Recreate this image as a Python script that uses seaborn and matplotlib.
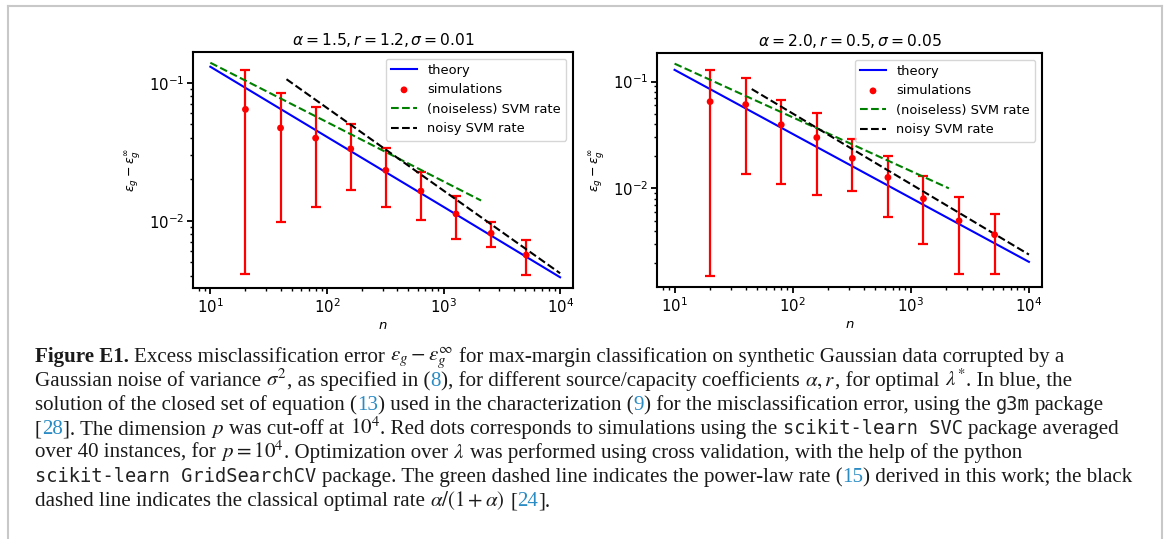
import numpy as np
import pandas as pd
import matplotlib
matplotlib.use("Agg")
import matplotlib.pyplot as plt
import seaborn as sns
from matplotlib.lines import Line2D

# ---------------- data ----------------
titles = [r"$\alpha = 1.5, r = 1.2, \sigma = 0.01$", r"$\alpha = 2.0, r = 0.5, \sigma = 0.05$"]

n_theory = [10, 100, 1000, 10000]
theory_left = [0.1306, 0.0405, 0.0126, 0.00389]
theory_right = [0.1286, 0.0323, 0.00813, 0.00205]

n_green = [10, 2100]
green_left = [0.1396, 0.0140]
green_right = [0.147, 0.0100]

n_black = [45, 10000]
black_left = [0.106, 0.00416]
black_right = [0.085, 0.0024]

n_sim = [20, 40, 80, 160, 320, 640, 1280, 2560, 5120]
sim_left = [0.0641, 0.047, 0.0397, 0.0332, 0.0232, 0.0164, 0.0112, 0.0081, 0.00564]
err_left = [0.060, 0.0372, 0.0271, 0.0166, 0.0106, 0.0062, 0.0038, 0.0017, 0.00163]
sim_right = [0.0648, 0.0608, 0.0394, 0.0299, 0.0191, 0.01265, 0.00801, 0.00497, 0.00368]
err_right = [0.0633, 0.0472, 0.0284, 0.0213, 0.0097, 0.0073, 0.0050, 0.0034, 0.0021]

legend_labels = ["theory", "simulations", "(noiseless) SVM rate", "noisy SVM rate"]

# ---------------- figure ----------------
W, H = 1167, 539
fig = plt.figure(figsize=(W / 100, H / 100), dpi=100)
plt.rcParams['font.family'] = ['DejaVu Sans']

axes_px = [(193, 52, 573, 288), (657, 53, 1042, 287)]
panels = [
    (theory_left, green_left, black_left, sim_left, err_left),
    (theory_right, green_right, black_right, sim_right, err_right),
]

for (x0, y0, x1, y1), title, (th, gr, bl, sm, er) in zip(axes_px, titles, panels):
    ax = fig.add_axes([x0 / W, 1 - y1 / H, (x1 - x0) / W, (y1 - y0) / H])
    ax.set_xscale("log")
    ax.set_yscale("log")
    sns.lineplot(x=n_theory, y=th, ax=ax, color="b", lw=1.5, label=legend_labels[0])
    ax.errorbar(n_sim, sm, yerr=er, fmt="none", ecolor="r", elinewidth=1.6,
                capsize=3.5, capthick=1.6, label="_nolegend_")
    sns.scatterplot(x=n_sim, y=sm, ax=ax, color="r", s=24, edgecolor="none",
                    label=legend_labels[1], zorder=3)
    sns.lineplot(x=n_green, y=gr, ax=ax, color="g", lw=1.5, linestyle="--", label=legend_labels[2])
    sns.lineplot(x=n_black, y=bl, ax=ax, color="k", lw=1.5, linestyle="--", label=legend_labels[3])
    ax.set_xlim(7.1, 12900)
    ax.set_title(title, fontsize=11.2, pad=5)
    ax.set_xlabel(r"$n$", fontsize=9.5, labelpad=2)
    ax.set_ylabel(r"$\varepsilon_g - \varepsilon_g^{\infty}$", fontsize=9, labelpad=4)
    for s in ax.spines.values():
        s.set_linewidth(1.5)
    ax.tick_params(which="major", width=1.3, length=4, labelsize=10.7, pad=2.5)
    ax.tick_params(which="minor", width=1.0, length=2.5)
    ax.set_facecolor("white")
    ax.legend(loc="upper right", fontsize=9.4)

# ---------------- caption ----------------
link = "#2b8cc4"
SERIF = ["Liberation Serif", "DejaVu Serif"]
MONO = ["DejaVu Sans Mono"]

caption = [
    [("Figure E1.", "b"), (" Excess misclassification error ", "n"), (r"$\epsilon_g-\epsilon_g^{\infty}$", "n"),
     (" for max-margin classification on synthetic Gaussian data corrupted by a", "n")],
    [("Gaussian noise of variance ", "n"), (r"$\sigma^2$", "n"), (", as specified in (", "n"), ("8", "l"),
     ("), for different source/capacity coefficients ", "n"), (r"$\alpha, r$", "n"), (", for optimal ", "n"),
     (r"$\lambda^{*}$", "n"), (". In blue, the", "n")],
    [("solution of the closed set of equation (", "n"), ("13", "l"), (") used in the characterization (", "n"),
     ("9", "l"), (") for the misclassification error, using the ", "n"), ("g3m", "m"), (" package", "n")],
    [("[", "n"), ("28", "l"), ("]. The dimension ", "n"), (r"$p$", "n"), (" was cut-off at ", "n"),
     (r"$10^4$", "n"), (". Red dots corresponds to simulations using the ", "n"), ("scikit-learn SVC", "m"),
     (" package averaged", "n")],
    [("over 40 instances, for ", "n"), (r"$p = 10^4$", "n"), (". Optimization over ", "n"), (r"$\lambda$", "n"),
     (" was performed using cross validation, with the help of the python", "n")],
    [("scikit-learn GridSearchCV", "m"), (" package. The green dashed line indicates the power-law rate (", "n"),
     ("15", "l"), (") derived in this work; the black", "n")],
    [("dashed line indicates the classical optimal rate ", "n"), (r"$\alpha/(1+\alpha)$", "n"), (" [", "n"),
     ("24", "l"), ("].", "n")],
]
line_ends = [1072, 1078, 1110, 1118, 972, 1134, 572]
baselines = [362, 386, 410, 434, 458, 482, 506]
x_start = 35
mono_size = 13.4

renderer = fig.canvas.get_renderer()


def style_kw(style, size):
    if style == "m":
        return dict(family=MONO, fontsize=mono_size, color="#222222")
    kw = dict(family=SERIF, fontsize=size, math_fontfamily="stix", color="#1a1a1a")
    if style == "b":
        kw["fontweight"] = "bold"
    if style == "l":
        kw["color"] = link
    return kw


def piece_width(txt, style, size):
    kw = style_kw(style, size)
    if txt.startswith("$"):
        t = fig.text(0, 0, txt, **kw)
        w = t.get_window_extent(renderer).width
        t.remove()
        return w
    t1 = fig.text(0, 0, "|" + txt + "|", **kw)
    t2 = fig.text(0, 0, "||", **kw)
    w = t1.get_window_extent(renderer).width - t2.get_window_extent(renderer).width
    t1.remove()
    t2.remove()
    return w


# fit serif size so lines end where they do in the reference
base = 13.0
num, den = 0.0, 0.0
for line, end in zip(caption, line_ends):
    serif_w = sum(piece_width(t, s, base) for t, s in line if s != "m")
    mono_w = sum(piece_width(t, s, base) for t, s in line if s == "m")
    num += (end - x_start - mono_w) * serif_w
    den += serif_w * serif_w
size = base * num / den

for line, yb in zip(caption, baselines):
    x = x_start
    for txt, st in line:
        w = piece_width(txt, st, size)
        kw = style_kw(st, size)
        if txt.startswith("$"):
            fig.text(x / W, 1 - yb / H, txt, va="baseline", ha="left", **kw)
        else:
            lead = len(txt) - len(txt.lstrip(" "))
            core = txt.strip(" ")
            if core:
                xs = x + (piece_width(" " * lead, st, size) if lead else 0)
                fig.text(xs / W, 1 - yb / H, core, va="baseline", ha="left", **kw)
        x += w

# frame lines
gray = "#c8c8c8"
fig.add_artist(Line2D([7.5 / W, 7.5 / W], [0, 1 - 5.5 / H], color=gray, lw=1.5, transform=fig.transFigure))
fig.add_artist(Line2D([7.5 / W, 1162 / W], [1 - 5.5 / H, 1 - 5.5 / H], color=gray, lw=1.5, transform=fig.transFigure))
fig.add_artist(Line2D([1162 / W, 1162 / W], [0, 1 - 5.5 / H], color=gray, lw=1.5, transform=fig.transFigure))

fig.savefig("out.png", dpi=100, facecolor="white")
